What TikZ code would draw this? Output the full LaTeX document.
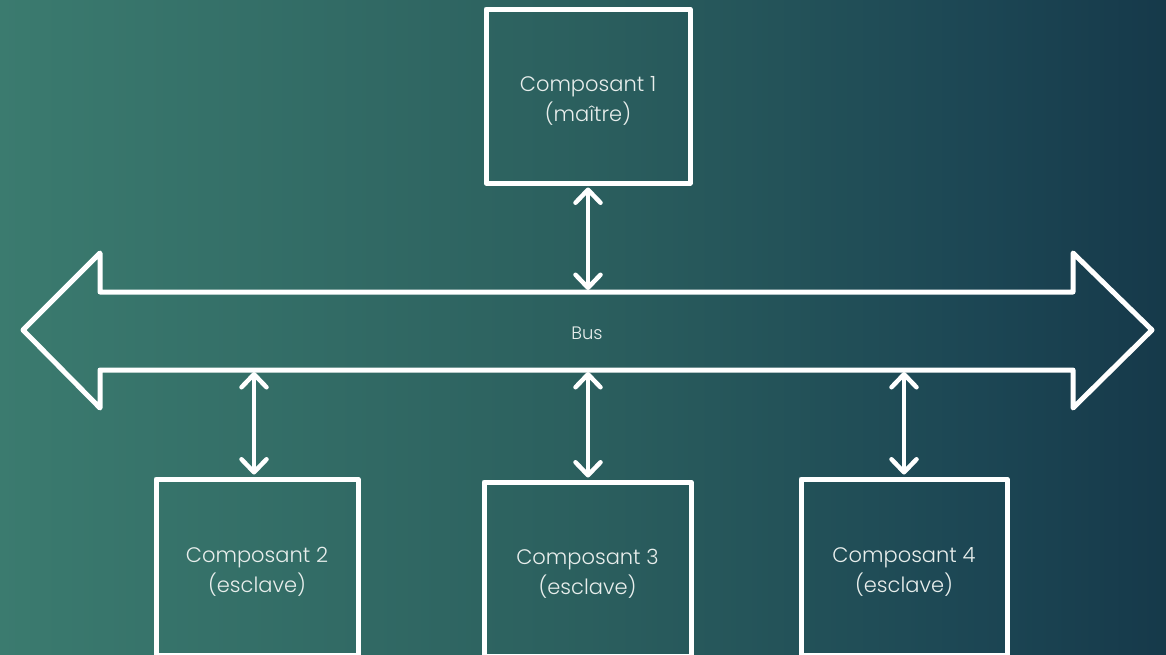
\documentclass[tikz,border=0pt]{standalone}
\usepackage{fontspec}
\setmainfont{Poppins}[UprightFont=* Light]
\usetikzlibrary{arrows.meta}
\definecolor{txtc}{RGB}{232,238,236}
\pgfdeclarehorizontalshading{bgshade}{100bp}{rgb(0bp)=(0.231,0.482,0.435); rgb(25bp)=(0.231,0.482,0.435); rgb(50bp)=(0.169,0.373,0.369); rgb(67bp)=(0.110,0.275,0.329); rgb(75bp)=(0.086,0.224,0.290); rgb(100bp)=(0.086,0.224,0.290)}
\newcommand{\twolines}[2]{\raisebox{-4.5pt}[\height][\depth]{\begin{tabular}{@{}c@{}}#1\\#2\end{tabular}}}
\tikzset{
  comp/.style={draw=white, line width=5pt, line join=round, text=txtc,
    font=\fontsize{21}{30}\selectfont, inner sep=0pt},
  biarrow/.style={draw=white, line width=4.5pt, line cap=round,
    {Straight Barb[length=13pt,width=25pt,line cap=round,line join=round]}-{Straight Barb[length=13pt,width=25pt,line cap=round,line join=round]},
    shorten <=2pt, shorten >=2pt},
  busline/.style={draw=white, line width=5pt, line join=round}
}
\begin{document}
\begin{tikzpicture}[x=1pt,y=-1pt]
\useasboundingbox (0,0) rectangle (1166,654);
\clip (0,0) rectangle (1166,654);
\shade[shading=bgshade] (0,0) rectangle (1166,654);
% bus
\draw[busline] (23,330) -- (100,253) -- (100,292) -- (1073,292) -- (1073,253) -- (1152,330)
  -- (1073,408) -- (1073,370) -- (100,370) -- (100,408) -- cycle;
\node[text=txtc, font=\fontsize{18}{20}\selectfont] (bus) at (587,333) {Bus};
\coordinate (bt1) at (588,292);
\coordinate (bb2) at (254,370);
\coordinate (bb3) at (588,370);
\coordinate (bb4) at (904,370);
% components
\node[comp, minimum width=204pt, minimum height=174pt] (c1) at (588,96) {\twolines{Composant 1}{(maître)}};
\node[comp, minimum width=202pt, minimum height=176pt] (c2) at (257,567) {\twolines{Composant 2}{(esclave)}};
\node[comp, minimum width=207pt, minimum height=174pt] (c3) at (587.5,569) {\twolines{Composant 3}{(esclave)}};
\node[comp, minimum width=206pt, minimum height=176pt] (c4) at (904,567) {\twolines{Composant 4}{(esclave)}};
% connectors
\draw[biarrow] (bt1 |- c1.south) -- (bt1);
\draw[biarrow] (bb2) -- (bb2 |- c2.north);
\draw[biarrow] (bb3) -- (bb3 |- c3.north);
\draw[biarrow] (bb4) -- (bb4 |- c4.north);
\end{tikzpicture}
\end{document}
